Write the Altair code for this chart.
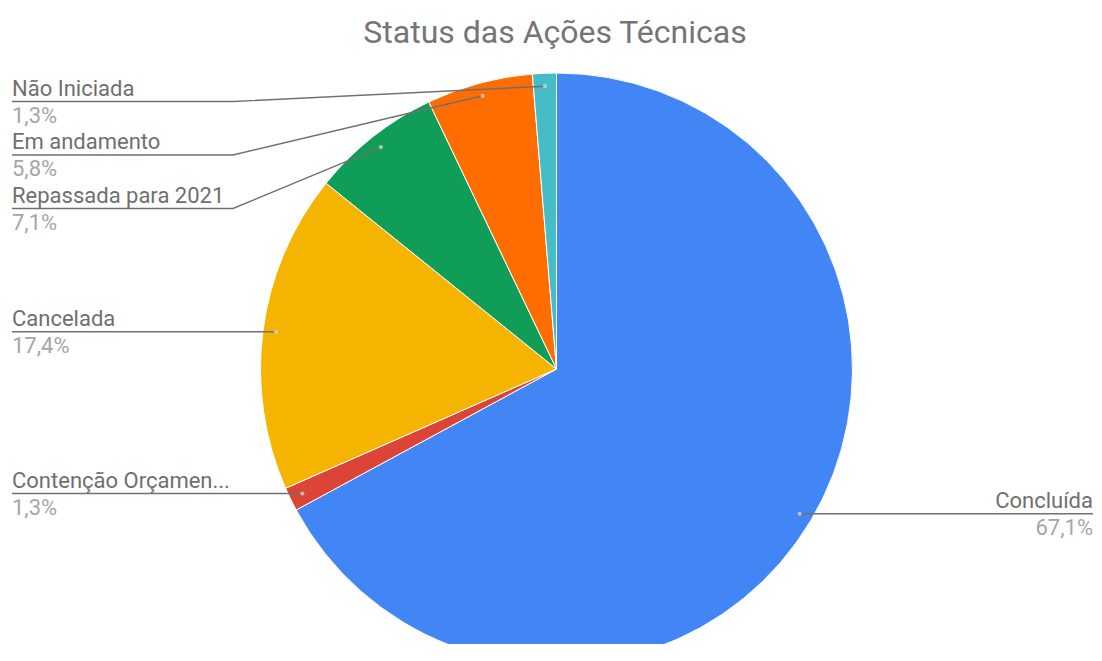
import math
import altair as alt
import pandas as pd

# ---- data ----
titulo = "Status das Ações Técnicas"
categorias = ["Concluída", "Contenção Orçamentária", "Cancelada",
              "Repassada para 2021", "Em andamento", "Não Iniciada"]
valores = [67.1, 1.3, 17.4, 7.1, 5.8, 1.3]
cores = ["#4285F4", "#DB4437", "#F4B400", "#0F9D58", "#FF6D00", "#46BDC6"]

# ---- layout ----
W, H = 1086, 636
CX, CY, R = 548.5, 361.0, 296.0
R_PONTO = 283.0
X_ESQ = 4.0
X_COTOVELO = 225.0
X_DIR = 1085.0
Y_MIN = 93.5
PASSO = 53.5
FONTE = "Roboto"

total = sum(valores)
pie_df = pd.DataFrame({"categoria": categorias, "valor": valores,
                       "ordem": list(range(len(categorias)))})

# leader geometry derived from the values
acum = 0.0
info = []
for i, (c, v) in enumerate(zip(categorias, valores)):
    meio = (acum + v / 2) / total * 2 * math.pi
    acum += v
    px = CX + R_PONTO * math.sin(meio)
    py = CY - R_PONTO * math.cos(meio)
    lado = "dir" if math.sin(meio) > 0 else "esq"
    nome = c if len(c) <= 20 else c[:17] + "..."
    pct = f"{v / total * 100:.1f}".replace(".", ",") + "%"
    info.append(dict(categoria=c, nome=nome, pct=pct, px=px, py=py, lado=lado))

esq = sorted([d for d in info if d["lado"] == "esq"], key=lambda d: d["py"])
prev = None
for d in esq:
    ly = max(d["py"], Y_MIN) if prev is None else max(d["py"], prev + PASSO)
    d["ly"] = ly
    prev = ly
for d in info:
    if d["lado"] == "dir":
        d["ly"] = d["py"]

linhas = []
for d in info:
    if d["lado"] == "esq":
        pts = [(X_ESQ, d["ly"]), (X_COTOVELO, d["ly"]), (d["px"], d["py"])]
    else:
        pts = [(d["px"], d["py"]), (X_DIR, d["ly"])]
    for k, (x, y) in enumerate(pts):
        linhas.append(dict(categoria=d["categoria"], k=k, x=x, y=y))
linhas_df = pd.DataFrame(linhas)

rot_df = pd.DataFrame([dict(categoria=d["categoria"], nome=d["nome"], pct=d["pct"],
                            px=d["px"], py=d["py"], lado=d["lado"],
                            xt=X_ESQ if d["lado"] == "esq" else X_DIR,
                            yn=d["ly"] - 6, yp=d["ly"] + 4) for d in info])

nos = alt.Scale(domain=categorias, range=cores)

pie = alt.Chart(pie_df).mark_arc(radius=R, stroke="white", strokeWidth=1).encode(
    theta=alt.Theta("valor:Q", stack=True),
    order=alt.Order("ordem:Q"),
    color=alt.Color("categoria:N", scale=nos, legend=None),
    x=alt.value(CX), y=alt.value(CY),
)

lin = alt.Chart(linhas_df).mark_line(color="#707070", strokeWidth=1.4).encode(
    x=alt.X("x:Q", scale=None), y=alt.Y("y:Q", scale=None),
    detail="categoria:N", order="k:Q",
)

pontos = alt.Chart(rot_df).mark_circle(size=18, color="#d0d0d0", opacity=0.8).encode(
    x=alt.X("px:Q", scale=None), y=alt.Y("py:Q", scale=None),
)

def textos(lado, align):
    base = alt.Chart(rot_df).transform_filter(alt.datum.lado == lado)
    n = base.mark_text(align=align, baseline="alphabetic", font=FONTE,
                       fontSize=22, color="#6f6f6f").encode(
        x=alt.X("xt:Q", scale=None), y=alt.Y("yn:Q", scale=None), text="nome:N")
    p = base.mark_text(align=align, baseline="top", font=FONTE,
                       fontSize=22, color="#a6a6a6").encode(
        x=alt.X("xt:Q", scale=None), y=alt.Y("yp:Q", scale=None), text="pct:N")
    return [n, p]

tit = alt.Chart(pd.DataFrame({"t": [titulo]})).mark_text(
    font=FONTE, fontSize=32, color="#757575", baseline="alphabetic", align="center"
).encode(text="t:N", x=alt.value(547), y=alt.value(35))

chart = alt.layer(pie, lin, pontos, *textos("esq", "left"), *textos("dir", "right"), tit).properties(
    width=W, height=H, autosize=alt.AutoSizeParams(type="none"), padding=0
).configure_view(strokeWidth=0)

chart.save("out.html", embed_options={"renderer": "svg", "actions": False})
